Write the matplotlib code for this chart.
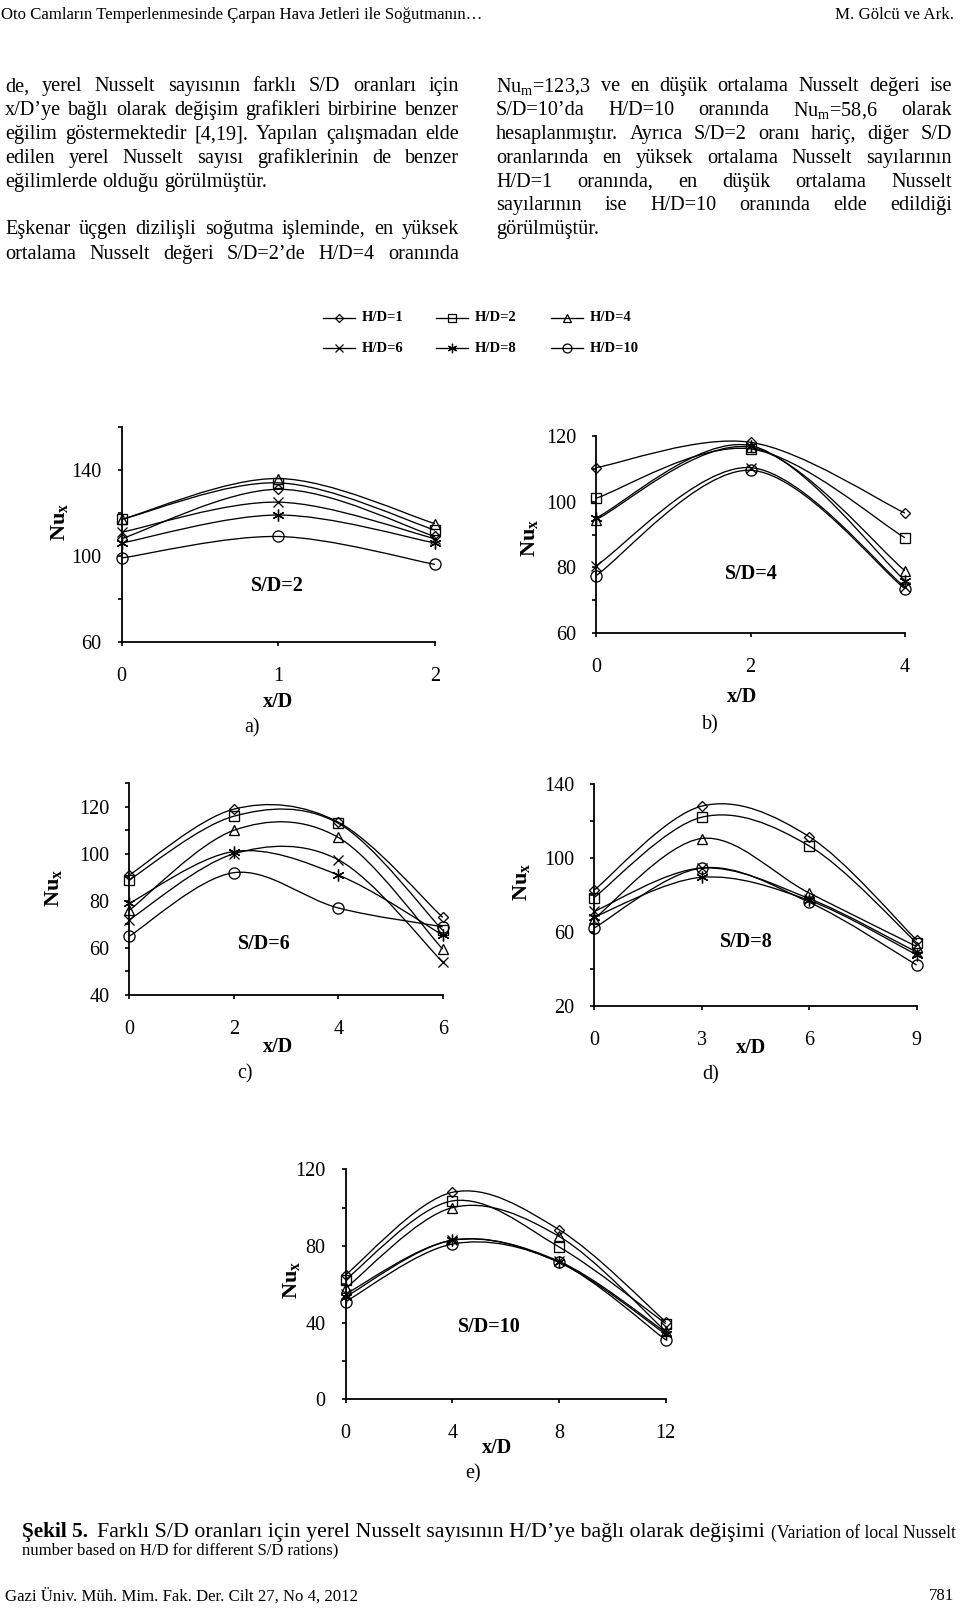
import matplotlib
matplotlib.use('Agg')
import numpy as np
import matplotlib.pyplot as plt
from matplotlib.path import Path
from matplotlib.patches import PathPatch
from matplotlib.lines import Line2D

plt.rcParams['font.family'] = ['Liberation Serif', 'DejaVu Serif']
plt.rcParams['mathtext.fontset'] = 'custom'
plt.rcParams['mathtext.rm'] = 'Liberation Serif'
plt.rcParams['mathtext.it'] = 'Liberation Serif:italic'
plt.rcParams['mathtext.bf'] = 'Liberation Serif:bold'

# ---------------- data ----------------
series = ['H/D=1', 'H/D=2', 'H/D=4', 'H/D=6', 'H/D=8', 'H/D=10']

x_a = [0, 1, 2]
nu_a = [[108, 131, 109], [117, 134, 112], [117, 136, 115],
        [111, 125, 108], [106, 119, 106], [99, 109, 96]]
yt_a = [60, 100, 140]
ym_a = [80, 120, 160]

x_b = [0, 2, 4]
nu_b = [[110.3, 118, 96.5], [101, 116, 89], [94.5, 116.5, 79],
        [80.5, 110.3, 74], [95, 117, 76], [77.5, 109.5, 73.5]]
yt_b = [60, 80, 100, 120]
ym_b = [70, 90, 110]

x_c = [0, 2, 4, 6]
nu_c = [[91, 119, 113.5, 73], [89, 116, 113, 67.5], [76, 110, 107, 59.5],
        [72, 100, 97.5, 54], [79, 101, 91, 65.5], [65, 92, 77, 69]]
yt_c = [40, 60, 80, 100, 120]
ym_c = [50, 70, 90, 110, 130]

x_d = [0, 3, 6, 9]
nu_d = [[82.5, 128, 111.5, 55.5], [78.5, 122, 106.5, 54], [67, 110.5, 81, 52],
        [71, 94.5, 78, 49], [68, 89.5, 77, 47.5], [62, 94.5, 76, 42]]
yt_d = [20, 60, 100, 140]
ym_d = [40, 80, 120]

x_e = [0, 4, 8, 12]
nu_e = [[65, 108, 88.5, 40.5], [62.5, 103.5, 79.5, 39.5], [58, 100, 85, 35.5],
        [55, 83, 72, 35], [53.5, 83, 71.5, 34], [51, 81, 71.5, 31]]
yt_e = [0, 40, 80, 120]
ym_e = [20, 60, 100]

# ---------------- figure ----------------
W, H = 960, 1611
fig = plt.figure(figsize=(W / 100, H / 100), dpi=100)
fig.patch.set_facecolor('white')
renderer = fig.canvas.get_renderer()


def fx(x):
    return x / W


def fy(y):
    return 1 - y / H


def smooth_path(xs, ys):
    p = np.column_stack([xs, ys]).astype(float)
    n = len(p)
    verts = [p[0]]
    codes = [Path.MOVETO]
    for i in range(n - 1):
        a = p[i - 1] if i > 0 else p[i]
        b = p[i]
        c = p[i + 1]
        d = p[i + 2] if i + 2 < n else p[i + 1]
        verts += [b + (c - a) / 6.0, c - (d - b) / 6.0, c]
        codes += [Path.CURVE4] * 3
    return Path(np.array(verts), codes)


MARKERS = ['D', 's', '^', 'x', (6, 2, 0), 'o']
MSIZE = [5.5, 7, 7.5, 7, 8.5, 8]
TICK_FS = 14.5
LBL_FS = 14.5


def panel(box, xs, ys_list, xlim, ylim, yticks, yminor, sd, sd_pos, nu_pos,
          xd_pos, letter, letter_pos):
    x0, x1, yt, yb = box
    ax = fig.add_axes([fx(x0), fy(yb), (x1 - x0) / W, (yb - yt) / H])
    for ys, m, ms in zip(ys_list, MARKERS, MSIZE):
        ax.add_patch(PathPatch(smooth_path(xs, ys), facecolor='none',
                               edgecolor='black', lw=0.95, zorder=2))
        ax.plot(xs, ys, ls='none', marker=m, ms=ms, mfc='none', mec='black',
                mew=0.95, zorder=3, clip_on=False)
    ax.set_xlim(*xlim)
    ax.set_ylim(*ylim)
    ax.set_xticks(xs)
    ax.set_xticklabels([str(v) for v in xs])
    ax.set_yticks(yticks)
    ax.set_yticklabels([str(v) for v in yticks])
    ax.set_yticks(yminor, minor=True)
    for s in ['top', 'right']:
        ax.spines[s].set_visible(False)
    for s in ['left', 'bottom']:
        ax.spines[s].set_linewidth(1.3)
    ax.tick_params(axis='both', which='both', direction='out', length=3,
                   width=1.2, labelsize=TICK_FS)
    ax.tick_params(axis='x', pad=15)
    ax.tick_params(axis='y', pad=11.4)
    ax.patch.set_alpha(0)
    fig.text(fx(sd_pos[0]), fy(sd_pos[1]), sd, ha='center', va='center',
             fontsize=LBL_FS, fontweight='bold')
    fig.text(fx(nu_pos[0]), fy(nu_pos[1]), r'$\mathbf{Nu}_{\mathbf{x}}$',
             rotation=90, ha='center', va='center', fontsize=16)
    fig.text(fx(xd_pos[0]), fy(xd_pos[1]), 'x/D', ha='center', va='center',
             fontsize=LBL_FS, fontweight='bold')
    fig.text(fx(letter_pos[0]), fy(letter_pos[1]), letter, ha='center',
             va='center', fontsize=LBL_FS)
    return ax


panel((121.7, 435, 427, 641.7), x_a, nu_a, (0, 2), (60, 160), yt_a, ym_a,
      'S/D=2', (277, 586), (60, 522), (278, 702), 'a)', (252, 728))
panel((596, 905, 435.7, 633.3), x_b, nu_b, (0, 4), (60, 120), yt_b, ym_b,
      'S/D=4', (751.5, 574), (530, 538), (742, 697), 'b)', (710, 725))
panel((129.3, 442.7, 783.3, 995), x_c, nu_c, (0, 6), (40, 130), yt_c, ym_c,
      'S/D=6', (264, 944), (54, 888), (278, 1046.5), 'c)', (245, 1074))
panel((594, 916.7, 784, 1005.7), x_d, nu_d, (0, 9), (20, 140), yt_d, ym_d,
      'S/D=8', (746.5, 942), (522, 882), (751, 1048), 'd)', (711, 1075))
panel((345.7, 665.7, 1169.3, 1399.3), x_e, nu_e, (0, 12), (0, 120), yt_e, ym_e,
      'S/D=10', (489, 1327), (292, 1280), (497, 1448), 'e)', (473, 1474))

# ---------------- legend ----------------
leg_cols = [322.7, 435.8, 551.0]
leg_rows = [317.6, 348.4]
for i, lab in enumerate(series):
    r, c = divmod(i, 3)
    xs0 = leg_cols[c]
    yy = leg_rows[r]
    fig.add_artist(Line2D([fx(xs0), fx(xs0 + 32)], [fy(yy), fy(yy)],
                          transform=fig.transFigure, color='black', lw=0.95))
    fig.add_artist(Line2D([fx(xs0 + 16)], [fy(yy)], transform=fig.transFigure,
                          ls='none', marker=MARKERS[i], ms=MSIZE[i] * 0.8,
                          mfc='none', mec='black', mew=0.9))
    fig.text(fx(xs0 + 39), fy(yy), lab, ha='left', va='center',
             fontsize=10.5, fontweight='bold')

# ---------------- page text ----------------


def wid(t):
    return t.get_window_extent(renderer=renderer).width


def fit_text(s, x0, x1, yc, weight='normal', base=12):
    t = fig.text(fx(x0), fy(yc), s, fontsize=base, fontweight=weight,
                 ha='left', va='center_baseline')
    w = wid(t)
    t.set_fontsize(base * (x1 - x0) / w)
    return t


def justify(line, x0, x1, yc, fs, last=False):
    words = line.split(' ')
    fs_px = fs * 100 / 72
    arts = [fig.text(0, fy(yc + 0.3 * fs_px), w, fontsize=fs, ha='left',
                     va='baseline') for w in words]
    widths = [wid(a) for a in arts]
    n = len(words)
    sp = 0.25 * fs_px
    tot = sum(widths)
    if last or n == 1:
        gap = sp
    else:
        gap = (x1 - x0 - tot) / (n - 1)
        if gap < 0.5 * sp:
            k = (x1 - x0) / (tot + (n - 1) * 0.5 * sp)
            for a in arts:
                a.set_fontsize(fs * k)
            widths = [wid(a) for a in arts]
            tot = sum(widths)
            gap = (x1 - x0 - tot) / (n - 1)
    x = x0
    for a, w in zip(arts, widths):
        a.set_x(fx(x))
        x += w + gap


BODY_FS = 14.6
left_lines = [
    ("de, yerel Nusselt sayısının farklı S/D oranları için", 85, False),
    ("x/D’ye bağlı olarak değişim grafikleri birbirine benzer", 109, False),
    ("eğilim göstermektedir [4,19]. Yapılan çalışmadan elde", 133, False),
    ("edilen yerel Nusselt sayısı grafiklerinin de benzer", 157, False),
    ("eğilimlerde olduğu görülmüştür.", 181, True),
    ("Eşkenar üçgen dizilişli soğutma işleminde, en yüksek", 228.3, False),
    ("ortalama Nusselt değeri S/D=2’de H/D=4 oranında", 252.5, False),
]
right_lines = [
    ("Nu$_{\\mathrm{m}}$=123,3 ve en düşük ortalama Nusselt değeri ise", 85, False),
    ("S/D=10’da H/D=10 oranında Nu$_{\\mathrm{m}}$=58,6 olarak", 109.3, False),
    ("hesaplanmıştır. Ayrıca S/D=2 oranı hariç, diğer S/D", 132.7, False),
    ("oranlarında en yüksek ortalama Nusselt sayılarının", 156.7, False),
    ("H/D=1 oranında, en düşük ortalama Nusselt", 180.7, False),
    ("sayılarının ise H/D=10 oranında elde edildiği", 204.3, False),
    ("görülmüştür.", 228.3, True),
]
for s, yc, last in left_lines:
    justify(s, 5, 459, yc, BODY_FS, last)
for s, yc, last in right_lines:
    justify(s, 496, 952, yc, BODY_FS, last)

# header
fit_text("Oto Camların Temperlenmesinde Çarpan Hava Jetleri ile Soğutmanın…",
         1, 483, 13)
fit_text("M. Gölcü ve Ark.", 835, 954, 13)

# caption
fit_text("Şekil 5.", 21.5, 88, 1530, weight='bold')
fit_text("Farklı S/D oranları için yerel Nusselt sayısının H/D’ye bağlı olarak değişimi",
         96.6, 765, 1530)
fit_text("(Variation of local Nusselt", 771, 956, 1530.5)
fit_text("number based on H/D for different S/D rations)", 21.5, 337, 1548.5)

# footer
foot = fit_text("Gazi Üniv. Müh. Mim. Fak. Der. Cilt 27, No 4, 2012", 5, 358, 1594)
fig.text(fx(954), fy(1594), "781", fontsize=foot.get_fontsize(),
         ha='right', va='center_baseline')

fig.savefig('out.png', dpi=100, facecolor='white')
